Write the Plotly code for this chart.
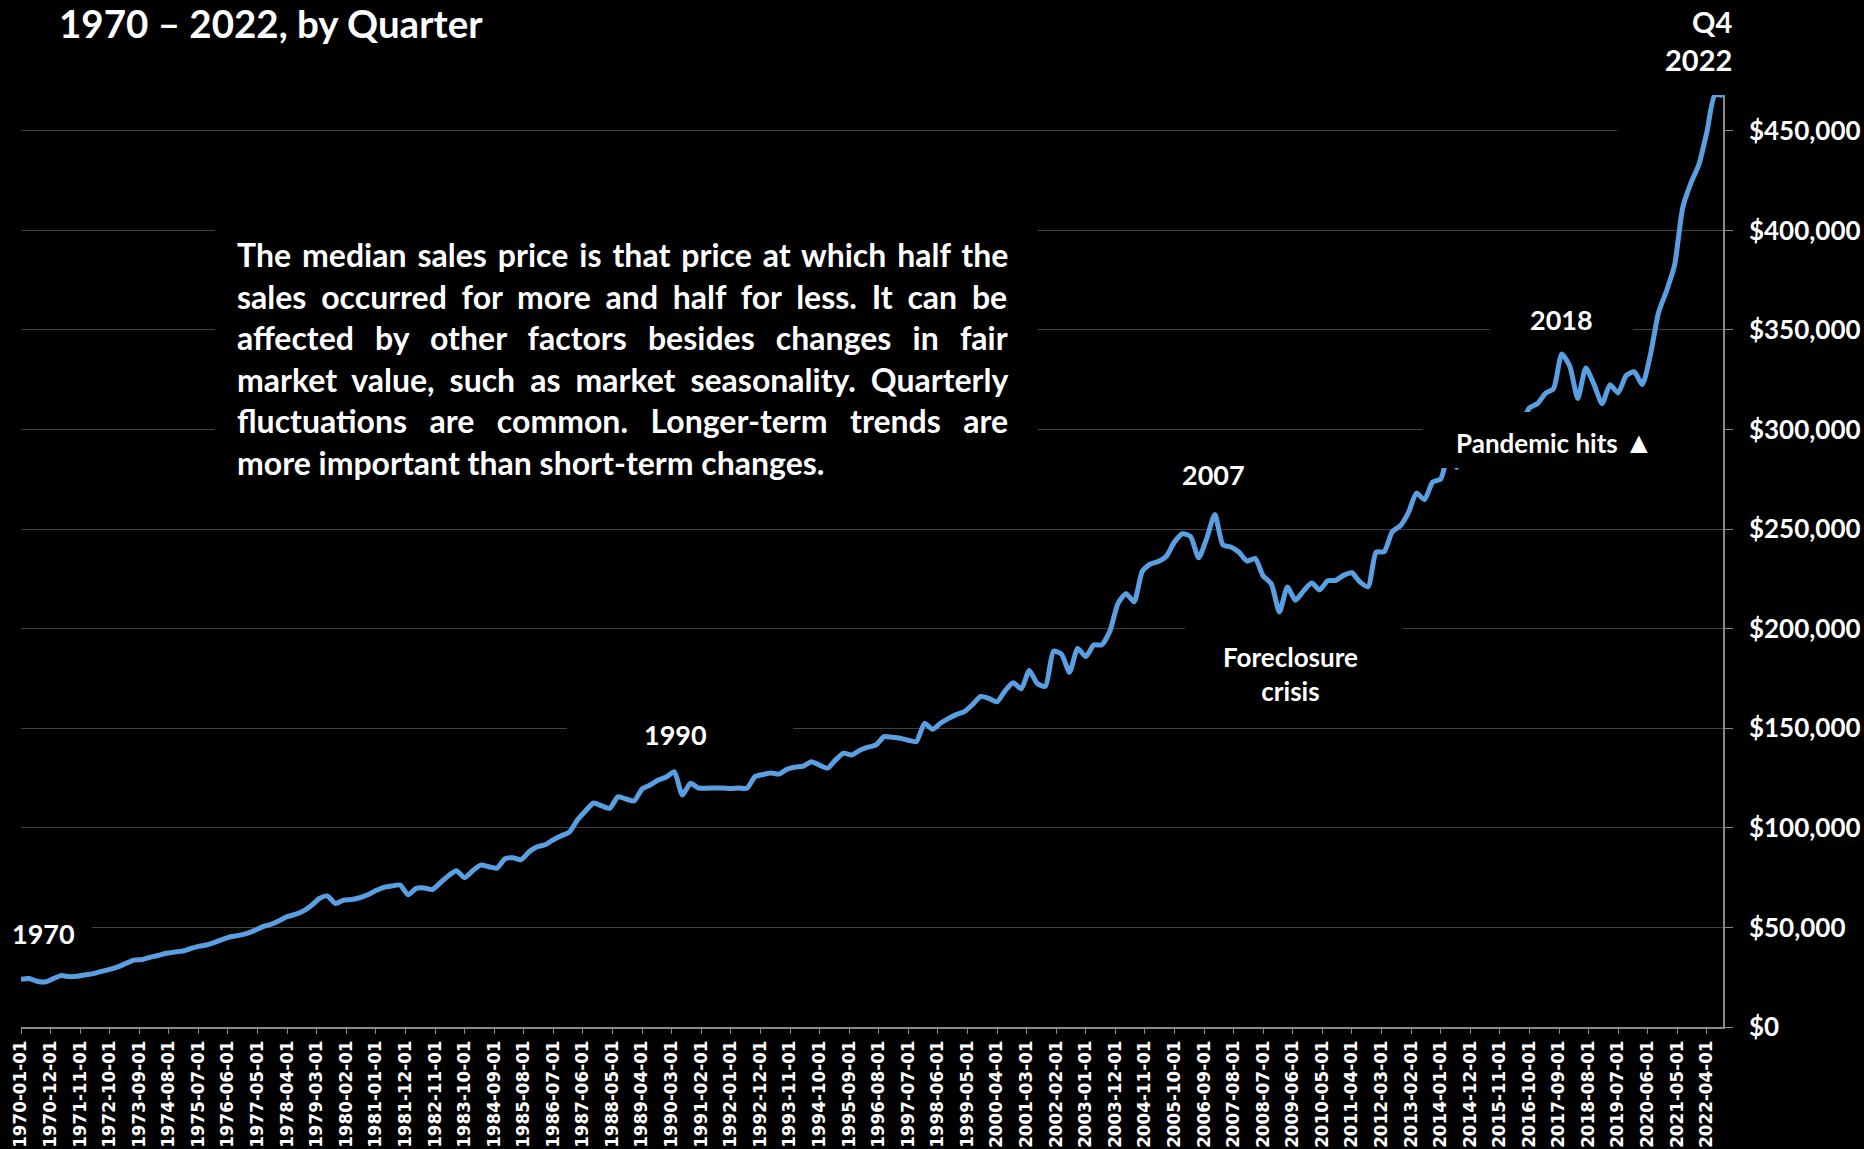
import pandas as pd
import plotly.graph_objects as go

# Median sales price of houses sold in the U.S., quarterly, in dollars (one list per decade)
prices_1970s = [23900, 24400, 23000, 22600, 24300, 25800, 25300, 25500, 26200, 26800,
                27900, 28900, 30200, 31900, 33600, 33800, 35000, 35900, 37000, 37600,
                38100, 39300, 40500, 41200, 42500, 44000, 45300, 46000, 47000, 48500,
                50400, 51600, 53400, 55400, 56500, 58200, 61000, 64500, 65800, 62000]
prices_1980s = [63700, 64000, 64900, 66400, 68500, 70100, 70800, 71300, 66400, 69600,
                69800, 69000, 72500, 76000, 78500, 75000, 78500, 81300, 80500, 79800,
                84500, 85000, 84000, 88000, 90500, 91500, 94000, 96000, 98000, 104000,
                108500, 112500, 111000, 109800, 115600, 114500, 113500, 119500, 121500, 124000]
prices_1990s = [125500, 128200, 116500, 122400, 120000, 119900, 120000, 120000, 119700, 120000,
                119900, 125700, 126800, 127500, 127000, 129500, 130500, 131000, 133200, 131500,
                130000, 134100, 137500, 136600, 139000, 140500, 141600, 145800, 145500, 145000,
                144000, 143300, 152500, 149500, 152500, 155000, 157000, 158500, 162000, 166000]
prices_2000s = [165000, 163300, 168800, 172900, 169800, 179000, 172500, 171100, 188700, 187200,
                178100, 190100, 186000, 191800, 191900, 198800, 212700, 217600, 213500, 228800,
                232500, 233700, 236400, 243600, 247700, 246300, 235600, 245400, 257400, 242200,
                241000, 238400, 233900, 235300, 226500, 222500, 208400, 220900, 214300, 219000]
prices_2010s = [222900, 219500, 224100, 224300, 226900, 228100, 223500, 221100, 238400, 238700,
                248700, 251700, 258400, 268100, 264800, 273600, 275200, 288000, 281000, 298900,
                289200, 289100, 295800, 302500, 299800, 306000, 303800, 310900, 313100, 318200,
                320500, 337900, 331800, 315600, 330900, 322800, 313000, 322500, 318400, 327100]
prices_2020s = [329000, 322600, 337500, 358700, 369800, 382600, 411200, 423600,
                433100, 449300, 468000, 467700]

prices = prices_1970s + prices_1980s + prices_1990s + prices_2000s + prices_2010s + prices_2020s
quarters = pd.date_range("1970-01-01", periods=len(prices), freq="QS")

y_ticks = list(range(0, 450001, 50000))
y_tick_text = [f"${v:,}" for v in y_ticks]

para_lines = [
    "The median sales price is that price at which half the",
    "sales occurred for more and half for less. It can be",
    "affected by other factors besides changes in fair",
    "market value, such as market seasonality. Quarterly",
    "fluctuations are common. Longer-term trends are",
    "more important than short-term changes.",
]
# extra gap between words so the block is flush on both sides
para_word_spacing = [3.2, 7.0, 13.4, 7.2, 14.7, 0]

WHITE = "#ffffff"
LINE_BLUE = "#5A9FE2"
GRID = "#404040"
AXIS = "#8a8a8a"

fig = go.Figure()
fig.add_trace(go.Scatter(
    x=quarters, y=prices, mode="lines",
    line=dict(color=LINE_BLUE, width=5, shape="spline", smoothing=0.6),
    hoverinfo="x+y", showlegend=False,
))


def label_font(size):
    return dict(family="Lato", size=size, color=WHITE, weight="bold")


def cover(x0, x1, y0, y1, layer="between"):
    # black panel behind a text label, hiding the gridlines there
    return dict(type="rect", xref="x", yref="y", x0=x0, x1=x1, y0=y0, y1=y1,
                fillcolor="black", line=dict(width=0), layer=layer)


shapes = [
    cover("1970-01-01", "1972-03-13", 36700, 57700),
    cover("1986-12-04", "1993-12-04", 136000, 158000),
    cover("1976-01-04", "2001-07-07", 264600, 440400),
    cover("2006-01-28", "2012-11-01", 158000, 204000),
    cover("2015-07-10", "2019-12-15", 343000, 366000),
    cover("2019-06-18", "2022-10-01", 444000, 455500),
    # opaque panel behind the pandemic note
    cover("2013-06-13", "2022-10-01", 280700, 308800, layer="above"),
]

annotations = [
    dict(x="1970-09-13", y=47200, text="1970", font=label_font(27)),
    dict(x="1990-04-19", y=147100, text="1990", font=label_font(27)),
    dict(x="2006-12-21", y=277200, text="2007", font=label_font(27)),
    dict(x="2009-05-03", y=177500, text="Foreclosure<br>crisis", font=label_font(26)),
    dict(x="2017-10-04", y=355500, text="2018", font=label_font(27)),
    dict(x="2017-07-13", y=294200, font=label_font(26),
         text="Pandemic hits <span style='font-size:30px'>\u25B2</span>"),
    dict(x=1.0065, y=1.0586, xref="paper", yref="paper", xanchor="right", yanchor="middle",
         align="right", text="Q4<br>2022", font=label_font(29)),
    dict(x=0.0209, y=1.0505, xref="paper", yref="paper", xanchor="left", yanchor="bottom",
         text="1970 \u2013 2022, by Quarter", font=label_font(38.5)),
    dict(x=0.1257, y=0.8524, xref="paper", yref="paper", xanchor="left", yanchor="top",
         align="left", font=label_font(32),
         text="<br>".join(f"<span style='word-spacing:{s}px'>{t}</span>"
                          for t, s in zip(para_lines, para_word_spacing))),
]
for a in annotations:
    a.setdefault("showarrow", False)

fig.update_layout(
    width=1864, height=1149, autosize=False,
    margin=dict(l=21, r=141, t=95, b=122),
    paper_bgcolor="black", plot_bgcolor="black",
    shapes=shapes, annotations=annotations,
    xaxis=dict(
        type="date", range=["1970-01-01", "2022-10-01"],
        tick0="1970-01-01", dtick="M11", tickformat="%Y-%m-%d", tickangle=-90,
        ticks="outside", ticklen=5, tickcolor=AXIS, showgrid=False,
        showline=True, linecolor=AXIS, linewidth=1.5, zeroline=False,
        tickfont=dict(family="DejaVu Sans", size=16.8, color=WHITE, weight="bold"),
        automargin=False,
    ),
    yaxis=dict(
        side="right", range=[0, 468000], tickvals=y_ticks, ticktext=y_tick_text,
        ticks="outside", ticklen=8, tickcolor=AXIS, ticklabelstandoff=11,
        showgrid=True, gridcolor=GRID, gridwidth=1.2,
        showline=True, linecolor=AXIS, linewidth=1.5, zeroline=False,
        tickfont=label_font(26), automargin=False,
    ),
)

fig.write_html("out.html")
